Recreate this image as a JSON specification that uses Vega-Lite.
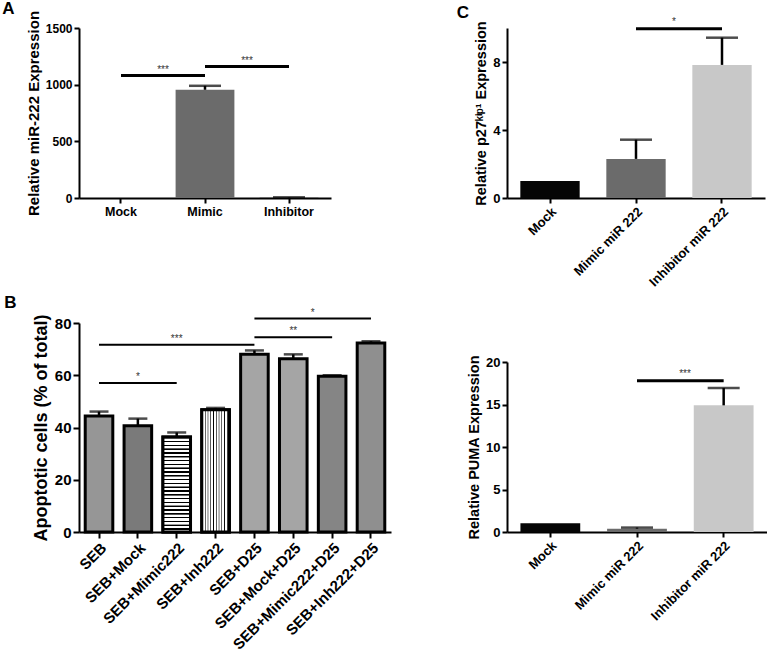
{
  "$schema": "https://vega.github.io/schema/vega-lite/v6.json",
  "padding": {"left": 2, "top": 0, "right": 0, "bottom": 0},
  "background": "white",
  "bounds": "flush",
  "config": {
    "font": "Liberation Sans",
    "view": {"stroke": null},
    "axis": {"domainColor": "black", "domainWidth": 2, "tickColor": "black", "tickWidth": 2, "tickSize": 5, "labelColor": "black", "labelFontWeight": "bold", "titleColor": "black", "titleFontWeight": "bold", "grid": false, "labelPadding": 2, "titlePadding": 4, "labelOverlap": false, "labelBound": false},
    "title": {"anchor": "start", "frame": "bounds", "fontSize": 17, "fontWeight": "bold", "color": "black"}
  },
  "resolve": {"scale": {"color": "independent"}},
  "spacing": 428,
  "hconcat": [
    {
      "spacing": 125,
      "bounds": "flush",
      "resolve": {"scale": {"color": "independent"}},
      "vconcat": [
        {
          "width": 252, "height": 170,
          "title": {"text": "A", "dx": -24, "offset": -8},
          "layer": [
            {
              "data": {"values": [
                {"group": "Mock", "value": 0.5},
                {"group": "Mimic", "value": 955, "upper": 990},
                {"group": "Inhibitor", "value": 3, "upper": 6}
              ]},
              "layer": [
                {"mark": {"type": "bar"},
                 "encoding": {
                   "x": {"field": "group", "type": "nominal", "title": null, "scale": {"domain": ["Mock", "Mimic", "Inhibitor"], "paddingInner": 0.3, "paddingOuter": 0.15}, "axis": {"labelAngle": 0, "labelFontSize": 12.5}},
                   "y": {"field": "value", "type": "quantitative", "title": "Relative miR-222 Expression", "scale": {"domain": [0, 1500], "nice": false}, "axis": {"values": [0, 500, 1000, 1500], "format": "d", "labelFontSize": 12, "titleFontSize": 15}},
                   "color": {"field": "group", "type": "nominal", "scale": {"domain": ["Mock", "Mimic", "Inhibitor"], "range": ["#000000", "#6b6b6b", "#2a2a2a"]}, "legend": null}
                 }},
                {"mark": {"type": "rule", "strokeWidth": 2.5, "color": "black"},
                 "encoding": {"x": {"field": "group", "type": "nominal", "title": null}, "y": {"field": "value", "type": "quantitative", "title": "Relative miR-222 Expression"}, "y2": {"field": "upper"}}},
                {"mark": {"type": "tick", "size": 32, "thickness": 2.5, "color": "black"},
                 "encoding": {"x": {"field": "group", "type": "nominal", "title": null}, "y": {"field": "upper", "type": "quantitative", "title": "Relative miR-222 Expression"}}}
              ]
            },
            {
              "data": {"values": [
                {"group": "Mock", "group2": "Mimic", "value": 1080, "label": "***"},
                {"group": "Mimic", "group2": "Inhibitor", "value": 1160, "label": "***"}
              ]},
              "layer": [
                {"mark": {"type": "rule", "strokeWidth": 3, "color": "black"},
                 "encoding": {"x": {"field": "group", "type": "nominal", "title": null}, "x2": {"field": "group2"}, "y": {"field": "value", "type": "quantitative", "title": "Relative miR-222 Expression"}}},
                {"mark": {"type": "text", "dx": 42, "dy": -3, "baseline": "alphabetic", "fontSize": 10, "color": "#333333"},
                 "encoding": {"x": {"field": "group", "type": "nominal", "title": null}, "y": {"field": "value", "type": "quantitative", "title": "Relative miR-222 Expression"}, "text": {"field": "label"}}}
              ]
            }
          ]
        },
        {
          "width": 312, "height": 209,
          "title": {"text": "B", "dx": -28, "offset": -4},
          "layer": [
            {
              "data": {"values": [
                {"group": "SEB", "value": 44.4, "upper": 46.1},
                {"group": "SEB+Mock", "value": 40.7, "upper": 43.4},
                {"group": "SEB+Mimic222", "value": 36.4, "upper": 38.1},
                {"group": "SEB+Inh222", "value": 46.8, "upper": 47.5},
                {"group": "SEB+D25", "value": 68.0, "upper": 69.5},
                {"group": "SEB+Mock+D25", "value": 66.3, "upper": 68.0},
                {"group": "SEB+Mimic222+D25", "value": 59.6, "upper": 60.0},
                {"group": "SEB+Inh222+D25", "value": 72.3, "upper": 73.0}
              ]},
              "layer": [
                {"mark": {"type": "bar", "stroke": "black", "strokeWidth": 3},
                 "encoding": {
                   "x": {"field": "group", "type": "nominal", "title": null, "scale": {"domain": ["SEB", "SEB+Mock", "SEB+Mimic222", "SEB+Inh222", "SEB+D25", "SEB+Mock+D25", "SEB+Mimic222+D25", "SEB+Inh222+D25"], "paddingInner": 0.29, "paddingOuter": 0.16}, "axis": {"labelAngle": -45, "labelFontSize": 15, "tickSize": 6}},
                   "y": {"field": "value", "type": "quantitative", "title": "Apoptotic cells (% of total)", "scale": {"domain": [0, 80], "nice": false}, "axis": {"values": [0, 20, 40, 60, 80], "labelFontSize": 15, "titleFontSize": 18, "tickSize": 6}},
                   "color": {"field": "group", "type": "nominal", "scale": {"domain": ["SEB", "SEB+Mock", "SEB+Mimic222", "SEB+Inh222", "SEB+D25", "SEB+Mock+D25", "SEB+Mimic222+D25", "SEB+Inh222+D25"], "range": ["#969696", "#7a7a7a", "#b4b4b4", "#b4b4b4", "#a5a5a5", "#a5a5a5", "#858585", "#8f8f8f"]}, "legend": null}
                 }},
                {"transform": [{"filter": "datum.group == 'SEB+Mimic222'"}],
                 "mark": {"type": "bar", "stroke": "black", "strokeWidth": 3, "fill": {"gradient": "linear", "x1": 0, "y1": 0, "x2": 0, "y2": 1, "stops": [
                   {"offset": 0.00, "color": "white"}, {"offset": 0.003, "color": "black"}, {"offset": 0.015, "color": "black"}, {"offset": 0.018, "color": "white"},
                   {"offset": 0.04, "color": "white"}, {"offset": 0.043, "color": "black"}, {"offset": 0.055, "color": "black"}, {"offset": 0.058, "color": "white"},
                   {"offset": 0.08, "color": "white"}, {"offset": 0.083, "color": "black"}, {"offset": 0.095, "color": "black"}, {"offset": 0.098, "color": "white"},
                   {"offset": 0.12, "color": "white"}, {"offset": 0.123, "color": "black"}, {"offset": 0.135, "color": "black"}, {"offset": 0.138, "color": "white"},
                   {"offset": 0.16, "color": "white"}, {"offset": 0.163, "color": "black"}, {"offset": 0.175, "color": "black"}, {"offset": 0.178, "color": "white"},
                   {"offset": 0.20, "color": "white"}, {"offset": 0.203, "color": "black"}, {"offset": 0.215, "color": "black"}, {"offset": 0.218, "color": "white"},
                   {"offset": 0.24, "color": "white"}, {"offset": 0.243, "color": "black"}, {"offset": 0.255, "color": "black"}, {"offset": 0.258, "color": "white"},
                   {"offset": 0.28, "color": "white"}, {"offset": 0.283, "color": "black"}, {"offset": 0.295, "color": "black"}, {"offset": 0.298, "color": "white"},
                   {"offset": 0.32, "color": "white"}, {"offset": 0.323, "color": "black"}, {"offset": 0.335, "color": "black"}, {"offset": 0.338, "color": "white"},
                   {"offset": 0.36, "color": "white"}, {"offset": 0.363, "color": "black"}, {"offset": 0.375, "color": "black"}, {"offset": 0.378, "color": "white"},
                   {"offset": 0.40, "color": "white"}, {"offset": 0.403, "color": "black"}, {"offset": 0.415, "color": "black"}, {"offset": 0.418, "color": "white"},
                   {"offset": 0.44, "color": "white"}, {"offset": 0.443, "color": "black"}, {"offset": 0.455, "color": "black"}, {"offset": 0.458, "color": "white"},
                   {"offset": 0.48, "color": "white"}, {"offset": 0.483, "color": "black"}, {"offset": 0.495, "color": "black"}, {"offset": 0.498, "color": "white"},
                   {"offset": 0.52, "color": "white"}, {"offset": 0.523, "color": "black"}, {"offset": 0.535, "color": "black"}, {"offset": 0.538, "color": "white"},
                   {"offset": 0.56, "color": "white"}, {"offset": 0.563, "color": "black"}, {"offset": 0.575, "color": "black"}, {"offset": 0.578, "color": "white"},
                   {"offset": 0.60, "color": "white"}, {"offset": 0.603, "color": "black"}, {"offset": 0.615, "color": "black"}, {"offset": 0.618, "color": "white"},
                   {"offset": 0.64, "color": "white"}, {"offset": 0.643, "color": "black"}, {"offset": 0.655, "color": "black"}, {"offset": 0.658, "color": "white"},
                   {"offset": 0.68, "color": "white"}, {"offset": 0.683, "color": "black"}, {"offset": 0.695, "color": "black"}, {"offset": 0.698, "color": "white"},
                   {"offset": 0.72, "color": "white"}, {"offset": 0.723, "color": "black"}, {"offset": 0.735, "color": "black"}, {"offset": 0.738, "color": "white"},
                   {"offset": 0.76, "color": "white"}, {"offset": 0.763, "color": "black"}, {"offset": 0.775, "color": "black"}, {"offset": 0.778, "color": "white"},
                   {"offset": 0.80, "color": "white"}, {"offset": 0.803, "color": "black"}, {"offset": 0.815, "color": "black"}, {"offset": 0.818, "color": "white"},
                   {"offset": 0.84, "color": "white"}, {"offset": 0.843, "color": "black"}, {"offset": 0.855, "color": "black"}, {"offset": 0.858, "color": "white"},
                   {"offset": 0.88, "color": "white"}, {"offset": 0.883, "color": "black"}, {"offset": 0.895, "color": "black"}, {"offset": 0.898, "color": "white"},
                   {"offset": 0.92, "color": "white"}, {"offset": 0.923, "color": "black"}, {"offset": 0.935, "color": "black"}, {"offset": 0.938, "color": "white"},
                   {"offset": 0.96, "color": "white"}, {"offset": 0.963, "color": "black"}, {"offset": 0.975, "color": "black"}, {"offset": 0.978, "color": "white"},
                   {"offset": 1.0, "color": "white"}
                 ]}},
                 "encoding": {"x": {"field": "group", "type": "nominal", "title": null}, "y": {"field": "value", "type": "quantitative", "title": "Apoptotic cells (% of total)"}}},
                {"transform": [{"filter": "datum.group == 'SEB+Inh222'"}],
                 "mark": {"type": "bar", "stroke": "black", "strokeWidth": 3, "fill": {"gradient": "linear", "x1": 0, "y1": 0, "x2": 1, "y2": 0, "stops": [
                   {"offset": 0.0, "color": "white"}, {"offset": 0.025, "color": "black"}, {"offset": 0.05, "color": "white"},
                   {"offset": 0.1, "color": "white"}, {"offset": 0.125, "color": "black"}, {"offset": 0.15, "color": "white"},
                   {"offset": 0.2, "color": "white"}, {"offset": 0.225, "color": "black"}, {"offset": 0.25, "color": "white"},
                   {"offset": 0.3, "color": "white"}, {"offset": 0.325, "color": "black"}, {"offset": 0.35, "color": "white"},
                   {"offset": 0.4, "color": "white"}, {"offset": 0.425, "color": "black"}, {"offset": 0.45, "color": "white"},
                   {"offset": 0.5, "color": "white"}, {"offset": 0.525, "color": "black"}, {"offset": 0.55, "color": "white"},
                   {"offset": 0.6, "color": "white"}, {"offset": 0.625, "color": "black"}, {"offset": 0.65, "color": "white"},
                   {"offset": 0.7, "color": "white"}, {"offset": 0.725, "color": "black"}, {"offset": 0.75, "color": "white"},
                   {"offset": 0.8, "color": "white"}, {"offset": 0.825, "color": "black"}, {"offset": 0.85, "color": "white"},
                   {"offset": 0.9, "color": "white"}, {"offset": 0.925, "color": "black"}, {"offset": 0.95, "color": "white"},
                   {"offset": 1.0, "color": "white"}
                 ]}},
                 "encoding": {"x": {"field": "group", "type": "nominal", "title": null}, "y": {"field": "value", "type": "quantitative", "title": "Apoptotic cells (% of total)"}}},
                {"mark": {"type": "rule", "strokeWidth": 2.5, "color": "black"},
                 "encoding": {"x": {"field": "group", "type": "nominal", "title": null}, "y": {"field": "value", "type": "quantitative", "title": "Apoptotic cells (% of total)"}, "y2": {"field": "upper"}}},
                {"mark": {"type": "tick", "size": 19, "thickness": 2.5, "color": "black"},
                 "encoding": {"x": {"field": "group", "type": "nominal", "title": null}, "y": {"field": "upper", "type": "quantitative", "title": "Apoptotic cells (% of total)"}}}
              ]
            },
            {
              "data": {"values": [
                {"group": "SEB", "group2": "SEB+Mimic222", "mid": "SEB+Mock", "value": 57, "label": "*"},
                {"group": "SEB", "group2": "SEB+D25", "mid": "SEB+Mimic222", "value": 71.7, "label": "***"},
                {"group": "SEB+D25", "group2": "SEB+Mimic222+D25", "mid": "SEB+Mock+D25", "value": 74.5, "label": "**"}
              ]},
              "layer": [
                {"mark": {"type": "rule", "strokeWidth": 2, "color": "black"},
                 "encoding": {"x": {"field": "group", "type": "nominal", "title": null}, "x2": {"field": "group2"}, "y": {"field": "value", "type": "quantitative", "title": "Apoptotic cells (% of total)"}}},
                {"mark": {"type": "text", "dy": -3, "baseline": "alphabetic", "fontSize": 10, "color": "#333333"},
                 "encoding": {"x": {"field": "mid", "type": "nominal", "title": null}, "y": {"field": "value", "type": "quantitative", "title": "Apoptotic cells (% of total)"}, "text": {"field": "label"}}}
              ]
            },
            {
              "data": {"values": [
                {"group": "SEB+D25", "group2": "SEB+Inh222+D25", "mid": "SEB+Mock+D25", "value": 81.7, "label": "*"}
              ]},
              "layer": [
                {"mark": {"type": "rule", "strokeWidth": 2, "color": "black"},
                 "encoding": {"x": {"field": "group", "type": "nominal", "title": null}, "x2": {"field": "group2"}, "y": {"field": "value", "type": "quantitative", "title": "Apoptotic cells (% of total)"}}},
                {"mark": {"type": "text", "dx": 19.5, "dy": -3, "baseline": "alphabetic", "fontSize": 10, "color": "#333333"},
                 "encoding": {"x": {"field": "mid", "type": "nominal", "title": null}, "y": {"field": "value", "type": "quantitative", "title": "Apoptotic cells (% of total)"}, "text": {"field": "label"}}}
              ]
            }
          ]
        }
      ]
    },
    {
      "spacing": 164,
      "bounds": "flush",
      "resolve": {"scale": {"color": "independent"}},
      "vconcat": [
        {
          "width": 258, "height": 170,
          "title": {"text": "C", "dx": -17, "offset": -5},
          "layer": [
            {
              "data": {"values": [
                {"group": "Mock", "value": 1.0},
                {"group": "Mimic miR 222", "value": 2.3, "upper": 3.43},
                {"group": "Inhibitor miR 222", "value": 7.83, "upper": 9.43}
              ]},
              "layer": [
                {"mark": {"type": "bar"},
                 "encoding": {
                   "x": {"field": "group", "type": "nominal", "title": null, "scale": {"domain": ["Mock", "Mimic miR 222", "Inhibitor miR 222"], "paddingInner": 0.31, "paddingOuter": 0.155}, "axis": {"labelAngle": -45, "labelFontSize": 13}},
                   "y": {"field": "value", "type": "quantitative", "title": "Relative p27ᵏⁱᵖ¹ Expression", "scale": {"domain": [0, 10], "nice": false}, "axis": {"values": [0, 2, 4, 6, 8, 10], "labelFontSize": 13, "titleFontSize": 14.5}},
                   "color": {"field": "group", "type": "nominal", "scale": {"domain": ["Mock", "Mimic miR 222", "Inhibitor miR 222"], "range": ["#050505", "#6b6b6b", "#c8c8c8"]}, "legend": null}
                 }},
                {"mark": {"type": "rule", "strokeWidth": 2.5, "color": "black"},
                 "encoding": {"x": {"field": "group", "type": "nominal", "title": null}, "y": {"field": "value", "type": "quantitative", "title": "Relative p27ᵏⁱᵖ¹ Expression"}, "y2": {"field": "upper"}}},
                {"mark": {"type": "tick", "size": 32, "thickness": 2.5, "color": "black"},
                 "encoding": {"x": {"field": "group", "type": "nominal", "title": null}, "y": {"field": "upper", "type": "quantitative", "title": "Relative p27ᵏⁱᵖ¹ Expression"}}}
              ]
            },
            {
              "data": {"values": [
                {"group": "Mimic miR 222", "group2": "Inhibitor miR 222", "value": 9.96, "label": "*"}
              ]},
              "layer": [
                {"mark": {"type": "rule", "strokeWidth": 3, "color": "black"},
                 "encoding": {"x": {"field": "group", "type": "nominal", "title": null}, "x2": {"field": "group2"}, "y": {"field": "value", "type": "quantitative", "title": "Relative p27ᵏⁱᵖ¹ Expression"}}},
                {"mark": {"type": "text", "dx": 38, "dy": -4, "baseline": "alphabetic", "fontSize": 10, "color": "#333333"},
                 "encoding": {"x": {"field": "group", "type": "nominal", "title": null}, "y": {"field": "value", "type": "quantitative", "title": "Relative p27ᵏⁱᵖ¹ Expression"}, "text": {"field": "label"}}}
              ]
            }
          ]
        },
        {
          "width": 260, "height": 170,
          "layer": [
            {
              "data": {"values": [
                {"group": "Mock", "value": 1.02},
                {"group": "Mimic miR 222", "value": 0.39, "upper": 0.52},
                {"group": "Inhibitor miR 222", "value": 14.9, "upper": 16.95}
              ]},
              "layer": [
                {"mark": {"type": "bar"},
                 "encoding": {
                   "x": {"field": "group", "type": "nominal", "title": null, "scale": {"domain": ["Mock", "Mimic miR 222", "Inhibitor miR 222"], "paddingInner": 0.31, "paddingOuter": 0.155}, "axis": {"labelAngle": -45, "labelFontSize": 13}},
                   "y": {"field": "value", "type": "quantitative", "title": "Relative PUMA Expression", "scale": {"domain": [0, 20], "nice": false}, "axis": {"values": [0, 5, 10, 15, 20], "labelFontSize": 13, "titleFontSize": 14.5}},
                   "color": {"field": "group", "type": "nominal", "scale": {"domain": ["Mock", "Mimic miR 222", "Inhibitor miR 222"], "range": ["#050505", "#6b6b6b", "#c8c8c8"]}, "legend": null}
                 }},
                {"mark": {"type": "rule", "strokeWidth": 2.5, "color": "black"},
                 "encoding": {"x": {"field": "group", "type": "nominal", "title": null}, "y": {"field": "value", "type": "quantitative", "title": "Relative PUMA Expression"}, "y2": {"field": "upper"}}},
                {"mark": {"type": "tick", "size": 32, "thickness": 2.5, "color": "black"},
                 "encoding": {"x": {"field": "group", "type": "nominal", "title": null}, "y": {"field": "upper", "type": "quantitative", "title": "Relative PUMA Expression"}}}
              ]
            },
            {
              "data": {"values": [
                {"group": "Mimic miR 222", "group2": "Inhibitor miR 222", "value": 17.8, "label": "***"}
              ]},
              "layer": [
                {"mark": {"type": "rule", "strokeWidth": 3, "color": "black"},
                 "encoding": {"x": {"field": "group", "type": "nominal", "title": null}, "x2": {"field": "group2"}, "y": {"field": "value", "type": "quantitative", "title": "Relative PUMA Expression"}}},
                {"mark": {"type": "text", "dx": 48, "dy": -4, "baseline": "alphabetic", "fontSize": 10, "color": "#333333"},
                 "encoding": {"x": {"field": "group", "type": "nominal", "title": null}, "y": {"field": "value", "type": "quantitative", "title": "Relative PUMA Expression"}, "text": {"field": "label"}}}
              ]
            }
          ]
        }
      ]
    }
  ]
}
